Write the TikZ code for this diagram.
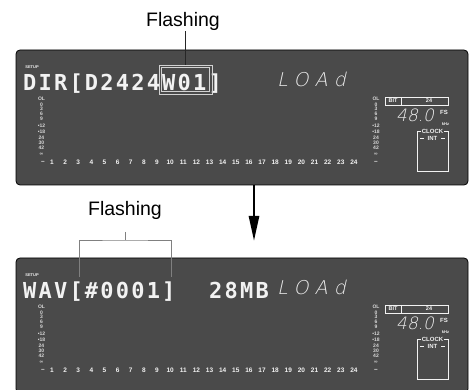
\documentclass[tikz,border=0pt]{standalone}
\usepackage{fontspec}
\setmainfont{Liberation Sans}
\newfontfamily\lcdfont{DejaVu Sans Mono}[LetterSpace=10]
\newfontfamily\segfont{DejaVu Sans ExtraLight}[FakeSlant=0.22,LetterSpace=34]
\newfontfamily\segfontnarrow{DejaVu Sans ExtraLight}[FakeSlant=0.22]
\usetikzlibrary{arrows.meta,positioning}
\definecolor{panelgray}{HTML}{4A4A4A}
\definecolor{lcdwhite}{HTML}{F2F2F2}
\tikzset{
  panel/.style={draw=black, line width=0.8pt, fill=panelgray, rounded corners=4pt,
    minimum width=452, minimum height=135, inner sep=0pt},
  lcdtext/.style={text=lcdwhite, font=\lcdfont\bfseries\fontsize{22}{22}\selectfont,
    inner sep=0pt, anchor=base west},
  segtext/.style={text=gray!15, font=\segfont\fontsize{19}{19}\selectfont,
    inner sep=0pt, anchor=base west},
  tinylabel/.style={text=gray!30, font=\bfseries\fontsize{5}{5}\selectfont, inner sep=0pt},
  chnum/.style={text=lcdwhite, font=\bfseries\fontsize{6.5}{6.5}\selectfont, inner sep=0pt},
  whitebox/.style={draw=lcdwhite, line width=0.6pt},
  callout/.style={font=\fontsize{19.5}{19.5}\selectfont, inner sep=0pt, anchor=base},
  leader/.style={draw=black!85, line width=0.8pt},
  flashbox/.style={draw=gray!35, line width=0.7pt,
    minimum width=53, minimum height=29, inner sep=0pt},
  bigarrow/.style={line width=2.6pt, -{Triangle[length=25pt,width=10pt]}}
}

\begin{document}
\begin{tikzpicture}[x=1pt,y=-1pt]
  \useasboundingbox (0,0) rectangle (469,390);
  \clip (0,0) rectangle (469,390);

  % the two display panels
  \node[panel] (panel1) at (242,117.5) {};
  \node[panel] (panel2) at (242,325.5) {};

  % parts shown on both panels
  \foreach \dy in {0,208} {
    \node[text=lcdwhite, font=\bfseries\fontsize{4}{4}\selectfont, inner sep=0pt] at (32,{67+\dy}) {SETUP};
    \node[segtext] at (277,{87+\dy}) {LOAd};
    % meter scales
    \foreach \lbl/\ly in {OL/99, 0/105, 3/108.5, 6/114, 9/119, •12/126, •18/132, 24/138, 30/143, 42/148, ∞/154} {
      \node[tinylabel] at (41.5,{\ly+\dy}) {\lbl};
      \node[tinylabel] at (376,{\ly+\dy}) {\lbl};
    }
    % channel numbers
    \node[chnum] at (43,{162+\dy}) {–};
    \node[chnum] at (376,{162+\dy}) {–};
    \foreach \n in {1,...,24}
      \node[chnum] at ({52+(\n-1)*13.13},{162+\dy}) {\n};
    % bit / fs / clock
    \draw[whitebox] (385,{97+\dy}) rectangle (448,{105+\dy});
    \draw[whitebox] (401,{97+\dy}) -- (401,{105+\dy});
    \node[chnum, font=\bfseries\fontsize{5.5}{5.5}\selectfont] at (393,{101+\dy}) {BIT};
    \node[chnum, font=\bfseries\fontsize{5.5}{5.5}\selectfont] at (429,{101+\dy}) {24};
    \node[text=gray!15, font=\segfontnarrow\fontsize{17}{17}\selectfont, inner sep=0pt, anchor=base west]
      at (396,{122+\dy}) {48.0};
    \node[chnum, font=\bfseries\fontsize{6}{6}\selectfont] at (444,{112.5+\dy}) {FS};
    \node[chnum, font=\bfseries\fontsize{4}{4}\selectfont] at (445.5,{124.5+\dy}) {kHz};
    \draw[whitebox] (417,{131+\dy}) rectangle (448,{171+\dy});
    \node[chnum, font=\bfseries\fontsize{6}{6}\selectfont, fill=panelgray, inner sep=0.6pt]
      at (432.5,{131+\dy}) {CLOCK};
    \node[chnum, font=\bfseries\fontsize{6}{6}\selectfont] at (432.5,{138.5+\dy}) {INT};
    \draw[lcdwhite, line width=1.3pt] (420,{138.5+\dy}) -- (424,{138.5+\dy});
    \draw[lcdwhite, line width=1.3pt] (441,{138.5+\dy}) -- (445,{138.5+\dy});
  }

  % upper panel
  \node[lcdtext] (dirname) at (23,91) {DIR[D2424W01]};
  \node[flashbox] (w01box) at (185.5,79.5) {};
  \node[flashbox, minimum width=48.5, minimum height=24.5] (w01inner) at (w01box) {};
  \node[callout] (flash1) at (183,27) {Flashing};
  \draw[leader] (flash1.south -| w01box.north) -- (w01box.north);

  % lower panel
  \node[lcdtext] (wavname) at (23,299) {WAV[\#0001]};
  \node[lcdtext] (wavsize) at (209,299) {28MB};
  \node[callout] (flash2) at (125,216) {Flashing};
  \coordinate (tick2) at (125,232);
  \coordinate (bracketL) at (79,277);
  \coordinate (bracketR) at (171,277);
  \draw[leader, draw=gray] (tick2) -- (125,240);
  \draw[leader, draw=gray] (bracketL) |- (125,240) -| (bracketR);

  % step arrow
  \coordinate (arrowtip) at (254,241);
  \draw[bigarrow] (panel1.south -| arrowtip) -- (arrowtip);
\end{tikzpicture}
\end{document}
